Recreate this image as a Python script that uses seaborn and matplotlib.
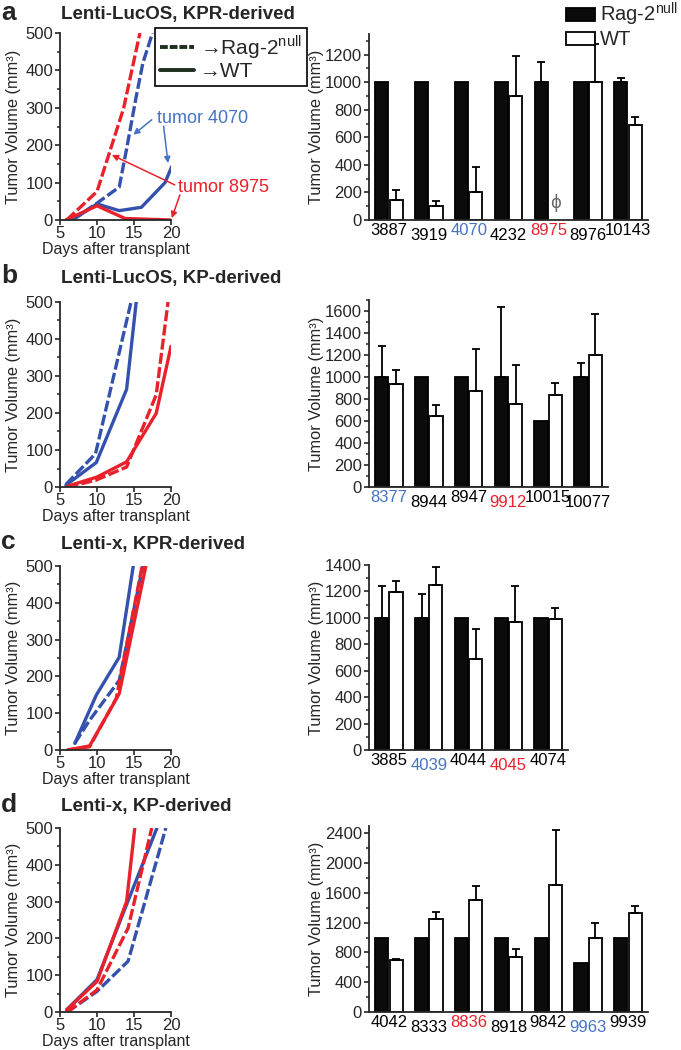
import numpy as np
import pandas as pd
import matplotlib
matplotlib.use("Agg")
import matplotlib.pyplot as plt
import seaborn as sns
from matplotlib.lines import Line2D
from matplotlib.patches import Patch
from matplotlib.ticker import MultipleLocator

sns.set_style("ticks")
plt.rcParams['font.family'] = ['Liberation Sans', 'DejaVu Sans']
plt.rcParams['mathtext.fontset'] = 'custom'
plt.rcParams['mathtext.rm'] = 'Liberation Sans'

RED = '#e8212b'
BLUE = '#3452ad'
BLUE_T = '#4673c4'
BLACK = '#0b0b0b'

# growth curves: rb = Rag-2null (dashed) blue, wb = WT (solid) blue, rr / wr = red
a_rb_x = [6.6, 10, 13, 14, 15.3, 16.2, 17.5]
a_rb_y = [0, 45, 88, 190, 330, 420, 500]
a_wb_x = [6.7, 10, 13, 16, 19.2, 20.1]
a_wb_y = [0, 43, 25, 34, 100, 143]
a_rr_x = [5.9, 10, 13.6, 15.8]
a_rr_y = [0, 76, 299, 500]
a_wr_x = [5.8, 10, 13.8, 20]
a_wr_y = [0, 38, 4, 0]

b_rb_x = [5.8, 9.8, 14.6]
b_rb_y = [7, 90, 500]
b_wb_x = [5.8, 9.9, 14, 15.3]
b_wb_y = [5, 66, 264, 500]
b_rr_x = [6, 9.8, 14, 18, 19.6]
b_rr_y = [0, 18, 54, 249, 500]
b_wr_x = [6, 10, 14, 18, 20]
b_wr_y = [2, 27, 68, 199, 380]

c_rb_x = [7, 9, 13, 16.2]
c_rb_y = [18, 81, 189, 500]
c_wb_x = [7, 9.9, 13, 14.9]
c_wb_y = [18, 149, 252, 500]
c_rr_x = [6, 9, 12.6, 16.1]
c_rr_y = [0, 9, 140, 500]
c_wr_x = [6, 9, 13, 16.6]
c_wr_y = [0, 11, 153, 500]

d_rb_x = [6, 10, 14.2, 19.3]
d_rb_y = [0, 56, 138, 500]
d_wb_x = [5.9, 10, 14, 18.1]
d_wb_y = [6, 88, 292, 500]
d_rr_x = [6, 10, 14.2, 17.4]
d_rr_y = [0, 60, 228, 500]
d_wr_x = [5.9, 10, 14, 15.1]
d_wr_y = [6, 83, 300, 500]

# bar charts: values and upper error magnitudes
a_tumors = ['3887', '3919', '4070', '4232', '8975', '8976', '10143']
a_rag = [1000, 1000, 1000, 1000, 1000, 1000, 1000]
a_rag_err = [0, 0, 0, 0, 150, 0, 28]
a_wt = [147, 98, 200, 902, np.nan, 1000, 688]
a_wt_err = [74, 37, 183, 287, 0, 276, 60]

b_tumors = ['8377', '8944', '8947', '9912', '10015', '10077']
b_rag = [1000, 1000, 1000, 1000, 600, 1000]
b_rag_err = [285, 0, 0, 636, 0, 124]
b_wt = [939, 648, 870, 752, 839, 1197]
b_wt_err = [122, 97, 382, 360, 103, 376]

c_tumors = ['3885', '4039', '4044', '4045', '4074']
c_rag = [1000, 1000, 1000, 1000, 1000]
c_rag_err = [242, 184, 0, 0, 0]
c_wt = [1196, 1247, 688, 967, 995]
c_wt_err = [81, 136, 226, 275, 78]

d_tumors = ['4042', '8333', '8836', '8918', '9842', '9963', '9939']
d_rag = [1000, 1000, 1000, 1000, 1000, 656, 1000]
d_rag_err = [0, 0, 0, 0, 0, 0, 0]
d_wt = [697, 1254, 1506, 733, 1712, 998, 1326]
d_wt_err = [22, 90, 188, 112, 737, 198, 94]

W, H = 681, 1050
fig = plt.figure(figsize=(W / 100, H / 100), dpi=100)


def px_axes(x0, y0, x1, y1):
    return fig.add_axes([x0 / W, 1 - y1 / H, (x1 - x0) / W, (y1 - y0) / H])


def style_axis(ax):
    sns.despine(ax=ax)
    for s in ['left', 'bottom']:
        ax.spines[s].set_linewidth(1.3)
    ax.tick_params(axis='both', which='major', length=3.8, width=1.2, labelsize=12, pad=1.2)
    ax.tick_params(axis='both', which='minor', length=2.2, width=1.1)


def line_panel(ax, series, box):
    for x, y, color, dashed in series:
        sns.lineplot(x=x, y=y, color=color, lw=2.4, estimator=None, sort=False, ax=ax)
        if dashed:
            ax.lines[-1].set_dashes([3.3, 1.0])
    ax.set_xlim(5, 20)
    ax.set_ylim(0, 500)
    ax.set_xticks([5, 10, 15, 20])
    ax.yaxis.set_major_locator(MultipleLocator(100))
    ax.yaxis.set_minor_locator(MultipleLocator(50))
    style_axis(ax)
    ax.tick_params(axis='x', pad=0.5)
    ax.set_xlabel('Days after transplant', fontsize=11.5, va='top')
    ax.xaxis.set_label_coords(0.5, -(22) / (box[3] - box[1]))
    ax.set_ylabel('Tumor Volume (mm³)', fontsize=11.8)
    ax.yaxis.set_label_coords((21 - box[0]) / (box[2] - box[0]), 0.5)


def bar_panel(ax, tumors, rag, rag_err, wt, wt_err, ytop, major, minor, colored, box):
    df = pd.DataFrame({'tumor': tumors + tumors,
                       'mouse': ['Rag'] * len(tumors) + ['WT'] * len(tumors),
                       'vol': list(rag) + list(wt)})
    sns.barplot(data=df, x='tumor', y='vol', hue='mouse', hue_order=['Rag', 'WT'],
                palette={'Rag': BLACK, 'WT': 'white'}, edgecolor='black', linewidth=1.3,
                width=0.72, gap=0.08, errorbar=None, legend=False, ax=ax)
    for cont, vals, errs in zip(ax.containers, [rag, wt], [rag_err, wt_err]):
        for bar in cont:
            xc = bar.get_x() + bar.get_width() / 2
            i = int(round(xc))
            v, e = vals[i], errs[i]
            if np.isnan(v) or e <= 0:
                continue
            ax.errorbar(xc, v, yerr=[[0], [e]], fmt='none', ecolor='black',
                        elinewidth=1.3, capsize=3, capthick=1.3)
    ax.set_xlim(-0.5, len(tumors) - 0.5)
    ax.set_ylim(0, ytop)
    ax.yaxis.set_major_locator(MultipleLocator(major))
    ax.yaxis.set_minor_locator(MultipleLocator(minor))
    style_axis(ax)
    ax.tick_params(axis='x', length=0)
    ax.set_xlabel('')
    ax.set_ylabel('Tumor Volume (mm³)', fontsize=11.8)
    ax.yaxis.set_label_coords((324 - box[0]) / (box[2] - box[0]), 0.5)
    for i, tick in enumerate(ax.xaxis.get_major_ticks()):
        tick.set_pad(2.5 if i % 2 == 0 else 6)
        tick.label1.set_color(colored.get(tumors[i], 'black'))
        tick.label1.set_fontsize(12)


# left: growth curves
boxes_l = [(60, 33, 171, 220), (60, 302, 171, 487), (60, 566, 171, 750), (60, 828, 171, 1012)]
curves = [
    [(a_rb_x, a_rb_y, BLUE, True), (a_rr_x, a_rr_y, RED, True),
     (a_wb_x, a_wb_y, BLUE, False), (a_wr_x, a_wr_y, RED, False)],
    [(b_rb_x, b_rb_y, BLUE, True), (b_wb_x, b_wb_y, BLUE, False),
     (b_wr_x, b_wr_y, RED, False), (b_rr_x, b_rr_y, RED, True)],
    [(c_rb_x, c_rb_y, BLUE, True), (c_wb_x, c_wb_y, BLUE, False),
     (c_rr_x, c_rr_y, RED, True), (c_wr_x, c_wr_y, RED, False)],
    [(d_rb_x, d_rb_y, BLUE, True), (d_wb_x, d_wb_y, BLUE, False),
     (d_rr_x, d_rr_y, RED, True), (d_wr_x, d_wr_y, RED, False)],
]
left_axes = []
for box, ser in zip(boxes_l, curves):
    ax = px_axes(*box)
    line_panel(ax, ser, box)
    left_axes.append(ax)

# right: bar charts
boxes_r = [(369, 34, 648, 220), (369, 300, 608, 487), (369, 565, 568, 750), (369, 826, 648, 1012)]
bar_specs = [
    (a_tumors, a_rag, a_rag_err, a_wt, a_wt_err, 1350, 200, 100, {'4070': BLUE_T, '8975': RED}),
    (b_tumors, b_rag, b_rag_err, b_wt, b_wt_err, 1700, 200, 100, {'8377': BLUE_T, '9912': RED}),
    (c_tumors, c_rag, c_rag_err, c_wt, c_wt_err, 1400, 200, 100, {'4039': BLUE_T, '4045': RED}),
    (d_tumors, d_rag, d_rag_err, d_wt, d_wt_err, 2500, 400, 200, {'8836': RED, '9963': BLUE_T}),
]
right_axes = []
for box, spec in zip(boxes_r, bar_specs):
    ax = px_axes(*box)
    bar_panel(ax, *spec, box)
    right_axes.append(ax)

# missing WT value in panel a
i_miss = int(np.where(np.isnan(a_wt))[0][0])
right_axes[0].text(i_miss + 0.18, 120, 'ϕ', ha='center', va='center', fontsize=12,
                   color='#666666', family=['DejaVu Sans'])

# panel a annotations
axa = left_axes[0]
axa.text(18.05, 272, 'tumor 4070', color=BLUE_T, fontsize=13, ha='left', va='center')
axa.text(21.0, 87, 'tumor 8975', color=RED, fontsize=13, ha='left', va='center', clip_on=False)
arrows = [((17.4, 268), (14.9, 228), BLUE_T), ((19.0, 251), (19.6, 152), BLUE_T),
          ((20.5, 94), (12.0, 174), RED), ((21.2, 67), (20.1, 5), RED)]
for start, end, col in arrows:
    axa.annotate('', xy=end, xytext=start, annotation_clip=False,
                 arrowprops=dict(arrowstyle='-|>', color=col, lw=1.1, shrinkA=0, shrinkB=0,
                                 mutation_scale=9))

# line-style legend
lh = [Line2D([], [], color='#1e2f1e', lw=2.8, dashes=[2.0, 0.5]),
      Line2D([], [], color='#1e2f1e', lw=2.8)]
leg = fig.legend(lh, ['→Rag-2$^{\\mathregular{null}}$', '→WT'], loc='upper left',
                 bbox_to_anchor=(155 / W, 1 - 28 / H), fontsize=15, handlelength=1.6,
                 handletextpad=0.3, labelspacing=0.05, borderpad=0.25, borderaxespad=0,
                 fancybox=False, framealpha=1, edgecolor='black')
leg.get_frame().set_linewidth(1.2)

# bar legend
bh = [Patch(facecolor=BLACK, edgecolor='black', lw=1.3),
      Patch(facecolor='white', edgecolor='black', lw=1.3)]
fig.legend(bh, ['Rag-2$^{\\mathregular{null}}$', 'WT'], loc='upper left',
           bbox_to_anchor=(566 / W, 1 - 1 / H), fontsize=14.5, handlelength=1.45,
           handleheight=0.6, handletextpad=0.25, labelspacing=0.1, borderpad=0,
           borderaxespad=0, frameon=False)

# titles and panel letters
titles = ['Lenti-LucOS, KPR-derived', 'Lenti-LucOS, KP-derived', 'Lenti-x, KPR-derived', 'Lenti-x, KP-derived']
letters = ['a', 'b', 'c', 'd']
title_y = [15, 278, 544, 807]
for t, l, y in zip(titles, letters, title_y):
    fig.text(61 / W, 1 - y / H, t, fontsize=13.5, fontweight='bold', va='center', ha='left')
    fig.text(1 / W, 1 - (y - 2) / H, l, fontsize=19, fontweight='bold', va='center', ha='left')

fig.savefig('out.png', dpi=100)
